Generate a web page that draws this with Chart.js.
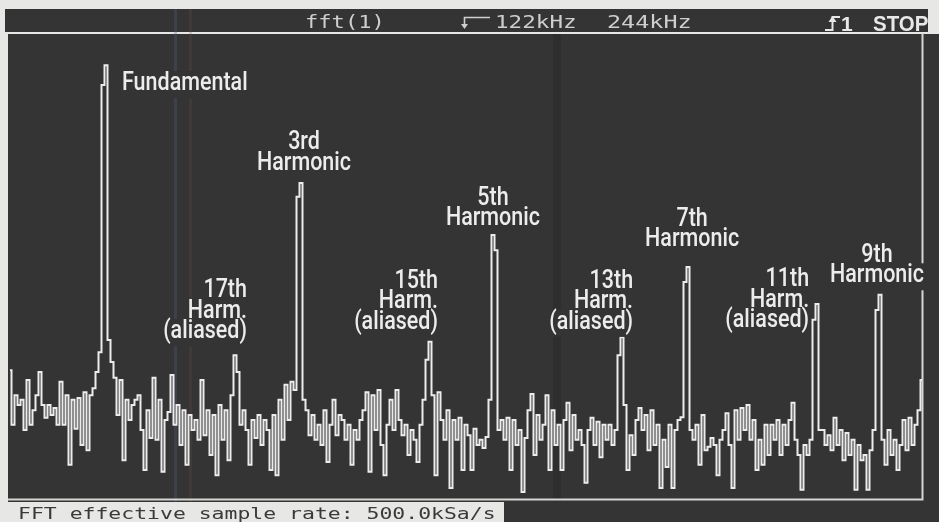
<!DOCTYPE html>
<html>
<head>
<meta charset="utf-8">
<title>fft(1)</title>
<script src="https://cdn.jsdelivr.net/npm/chart.js@4.4.1/dist/chart.umd.min.js"></script>
<style>
  html, body { margin: 0; padding: 0; background: #e7e7e5; }
  canvas { display: block; }
</style>
</head>
<body>
<canvas id="fft" width="939" height="522"></canvas>
<script>
// Display span (kHz) and magnitude range (dB)
const SPAN_KHZ = 244;
const DB_MIN = -80;
const DB_MAX = 0;

// FFT magnitude per bin, dB (bins evenly spaced across the span)
const magnitudeDb = [
  -57.8,-67.2,-62.1,-63.8,-62.9,-68.1,-59.5,-67.2,-64.7,-62.1,
  -58.1,-63.8,-66.0,-63.8,-65.5,-64.3,-67.2,-59.8,-67.2,-62.1,
  -74.1,-62.9,-67.9,-62.6,-70.7,-61.6,-71.6,-62.1,-60.9,-58.1,
  -54.7,-8.6,-5.2,-52.6,-56.4,-59.1,-65.5,-59.5,-73.3,-62.9,
  -66.4,-63.8,-62.9,-62.1,-68.1,-75.0,-64.7,-69.5,-59.1,-69.8,
  -62.9,-75.3,-66.4,-65.0,-58.6,-67.2,-63.8,-70.7,-64.7,-74.1,
  -65.5,-68.1,-66.4,-69.8,-59.5,-69.0,-64.7,-72.4,-65.5,-75.9,
  -63.8,-69.8,-64.7,-73.3,-62.1,-55.2,-58.1,-67.2,-64.7,-68.1,
  -74.1,-66.4,-69.5,-65.5,-70.7,-66.4,-68.1,-75.0,-65.5,-75.9,
  -62.9,-69.8,-60.3,-66.4,-59.8,-61.2,-27.9,-25.5,-62.9,-64.7,
  -69.0,-65.5,-69.8,-67.2,-70.7,-64.7,-73.6,-67.2,-62.9,-69.0,
  -65.5,-66.4,-69.8,-67.2,-74.1,-68.1,-69.8,-66.4,-64.7,-61.6,
  -75.3,-62.1,-68.1,-61.2,-70.7,-75.9,-67.2,-62.9,-68.1,-61.2,
  -66.4,-69.0,-67.2,-72.4,-68.1,-69.8,-73.6,-67.2,-62.9,-56.0,
  -52.9,-62.1,-75.9,-61.6,-66.4,-69.8,-64.7,-78.1,-66.4,-69.8,
  -66.0,-75.0,-67.2,-69.0,-75.0,-67.9,-70.7,-69.8,-71.2,-69.3,
  -62.9,-34.5,-37.1,-68.1,-66.4,-69.8,-66.0,-75.0,-66.4,-70.7,
  -68.1,-78.8,-69.5,-64.7,-61.9,-72.4,-65.5,-69.8,-67.2,-62.1,
  -75.0,-64.7,-70.7,-67.2,-75.0,-66.4,-63.4,-71.6,-65.5,-69.8,
  -68.1,-70.7,-77.2,-68.1,-66.0,-70.7,-66.7,-72.8,-67.2,-69.8,
  -67.2,-70.7,-68.1,-55.2,-52.1,-63.8,-75.0,-69.0,-72.4,-66.4,
  -64.3,-68.1,-65.5,-71.6,-64.7,-70.7,-67.2,-78.1,-69.8,-74.5,
  -67.2,-78.1,-68.1,-66.4,-65.9,-42.6,-40.0,-68.1,-69.8,-67.2,
  -74.1,-65.5,-71.6,-71.0,-69.5,-70.7,-75.9,-69.8,-68.1,-65.2,
  -70.7,-78.1,-64.7,-69.8,-64.3,-68.1,-63.8,-69.8,-66.4,-75.0,
  -69.8,-74.1,-67.2,-72.4,-67.2,-69.8,-66.4,-72.4,-67.2,-70.7,
  -66.4,-63.4,-69.8,-72.4,-78.4,-70.7,-72.4,-69.8,-49.1,-46.4,
  -68.1,-68.1,-70.7,-69.0,-71.6,-66.0,-70.7,-68.1,-73.3,-68.6,
  -72.4,-69.8,-78.4,-70.7,-73.3,-72.4,-78.4,-71.6,-68.1,-47.4,
  -44.8,-69.8,-74.1,-68.1,-72.4,-69.8,-75.0,-70.7,-66.4,-71.6,
  -66.0,-70.7,-67.2,-64.7,-59.5
];

// Bin centre frequencies, kHz
const binKHz = SPAN_KHZ / (magnitudeDb.length - 1);
const freqKHz = magnitudeDb.map((_, i) => i * binKHz);

// Annotation text for each spectral line
const peakNames = [
  ["Fundamental"],
  ["3rd", "Harmonic"],
  ["17th", "Harm.", "(aliased)"],
  ["15th", "Harm.", "(aliased)"],
  ["5th", "Harmonic"],
  ["13th", "Harm.", "(aliased)"],
  ["7th", "Harmonic"],
  ["11th", "Harm.", "(aliased)"],
  ["9th", "Harmonic"]
];

// Status line and footer text
const statusSource = "fft(1)";
const statusCenter = "122kHz";
const statusSpan = "244kHz";
const statusChannel = "1";
const statusRun = "STOP";
const footerText = "FFT effective sample rate: 500.0kSa/s";

// ---- styling ----
const SCREEN = '#343434';
const PAPER = '#e7e7e5';
const TRACE = '#ececec';
const GRID = '#d6d6d4';
const TEXT = '#ececec';

// Where each annotation sits: anchor frequency (kHz), first baseline (dB), alignment
const labelPlacement = [
  { f: 29.96,  db: -9.5,  align: 'left'   },
  { f: 78.66,  db: -19.7, align: 'center' },
  { f: 63.4,   db: -45.2, align: 'right'  },
  { f: 114.5,  db: -43.6, align: 'right'  },
  { f: 129.2,  db: -29.3, align: 'center' },
  { f: 166.7,  db: -43.6, align: 'right'  },
  { f: 182.5,  db: -32.9, align: 'center' },
  { f: 213.8,  db: -43.3, align: 'right'  },
  { f: 231.96, db: -39.1, align: 'center' }
];
const labelFont = '500 25px Roboto';
const labelSqueeze = 0.86;
const labelLineGap = 20.5;

function stretchedText(ctx, text, x, y, font, sx, color, align) {
  ctx.save();
  ctx.font = font;
  ctx.fillStyle = color;
  ctx.textAlign = align || 'left';
  ctx.textBaseline = 'alphabetic';
  ctx.translate(x, y);
  ctx.scale(sx, 1);
  ctx.fillText(text, 0, 0);
  ctx.restore();
}

const scopeScreen = {
  id: 'scopeScreen',
  beforeDraw(chart) {
    const c = chart.ctx;
    const W = chart.width, H = chart.height;
    c.save();
    c.fillStyle = PAPER;
    c.fillRect(0, 0, W, H);
    // status bar
    c.fillStyle = SCREEN;
    c.fillRect(5, 9, 923, 23);
    // display area
    c.fillRect(8, 34, W - 8, H - 34);
    // footer message box
    c.fillStyle = PAPER;
    c.fillRect(0, 502, 504, H - 502);
    // faint phosphor streaks
    c.fillStyle = 'rgba(80,95,130,0.3)';
    c.fillRect(174, 9, 3, 493);
    c.fillStyle = 'rgba(115,80,70,0.2)';
    c.fillRect(189, 9, 3, 493);
    c.fillStyle = 'rgba(20,20,20,0.18)';
    c.fillRect(553, 34, 8, 466);
    c.restore();
  },
  beforeDatasetsDraw(chart) {
    const c = chart.ctx;
    const a = chart.chartArea;
    c.save();
    c.strokeStyle = GRID;
    c.lineWidth = 2;
    c.beginPath();
    c.moveTo(a.right + 0.5, 33);
    c.lineTo(a.right + 0.5, a.bottom + 0.5);
    c.lineTo(8, a.bottom + 0.5);
    c.stroke();
    c.restore();
  },
  afterDatasetsDraw(chart) {
    const c = chart.ctx;
    const xs = chart.scales.x, ys = chart.scales.y;

    // peak annotations
    peakNames.forEach((lines, k) => {
      const p = labelPlacement[k];
      const x = xs.getPixelForValue(p.f);
      const y0 = ys.getPixelForValue(p.db);
      lines.forEach((txt, j) => {
        const y = y0 + j * labelLineGap;
        c.save();
        c.font = labelFont;
        const w = c.measureText(txt).width * labelSqueeze;
        let left = x;
        if (p.align === 'center') left = x - w / 2;
        if (p.align === 'right') left = x - w;
        c.fillStyle = SCREEN;
        c.fillRect(left - 1, y - 19, w + 2, 27);
        c.restore();
        stretchedText(c, txt, x, y, labelFont, labelSqueeze, TEXT, p.align);
      });
    });

    // status line
    const mono = '17px "DejaVu Sans Mono"';
    stretchedText(c, statusSource, 305, 28, mono, 1.3, '#cfcfcf');
    stretchedText(c, statusCenter, 495, 28, mono, 1.33, '#cfcfcf');
    stretchedText(c, statusSpan, 607, 28, mono, 1.38, '#cfcfcf');
    c.save();
    c.strokeStyle = '#cfcfcf';
    c.fillStyle = '#cfcfcf';
    c.lineWidth = 1.6;
    // centre-frequency marker
    c.beginPath();
    c.moveTo(490, 17.5); c.lineTo(464.5, 17.5); c.lineTo(464.5, 27);
    c.stroke();
    c.beginPath();
    c.moveTo(461, 24); c.lineTo(468, 24); c.lineTo(464.5, 29); c.closePath();
    c.fill();
    // trigger edge symbol
    c.strokeStyle = '#e6e6e6';
    c.fillStyle = '#e6e6e6';
    c.lineWidth = 2;
    c.beginPath();
    c.moveTo(825, 30); c.lineTo(832.5, 30); c.lineTo(832.5, 17); c.lineTo(840, 17);
    c.stroke();
    c.beginPath();
    c.moveTo(828.5, 22); c.lineTo(836.5, 22); c.lineTo(832.5, 16); c.closePath();
    c.fill();
    c.restore();
    stretchedText(c, statusChannel, 841, 31, 'bold 21px "Liberation Sans"', 1.0, '#e8e8e8');
    stretchedText(c, statusRun, 873, 31, 'bold 22px "Liberation Sans"', 0.93, '#e8e8e8');

    // footer
    stretchedText(c, footerText, 18, 519, '16px "DejaVu Sans Mono"', 1.34, '#3a3a3a');
  }
};

new Chart(document.getElementById('fft'), {
  type: 'line',
  data: {
    datasets: [{
      data: magnitudeDb.map((v, i) => ({ x: freqKHz[i], y: v })),
      borderColor: TRACE,
      borderWidth: 2,
      stepped: 'middle',
      pointRadius: 0,
      fill: false,
      clip: false
    }]
  },
  options: {
    responsive: false,
    animation: false,
    devicePixelRatio: 1,
    layout: { padding: { left: 10, right: 17, top: 35, bottom: 23 } },
    plugins: { legend: { display: false }, tooltip: { enabled: false } },
    events: [],
    scales: {
      x: { type: 'linear', min: 0, max: SPAN_KHZ, display: false },
      y: { type: 'linear', min: DB_MIN, max: DB_MAX, display: false }
    }
  },
  plugins: [scopeScreen]
});
</script>
</body>
</html>
